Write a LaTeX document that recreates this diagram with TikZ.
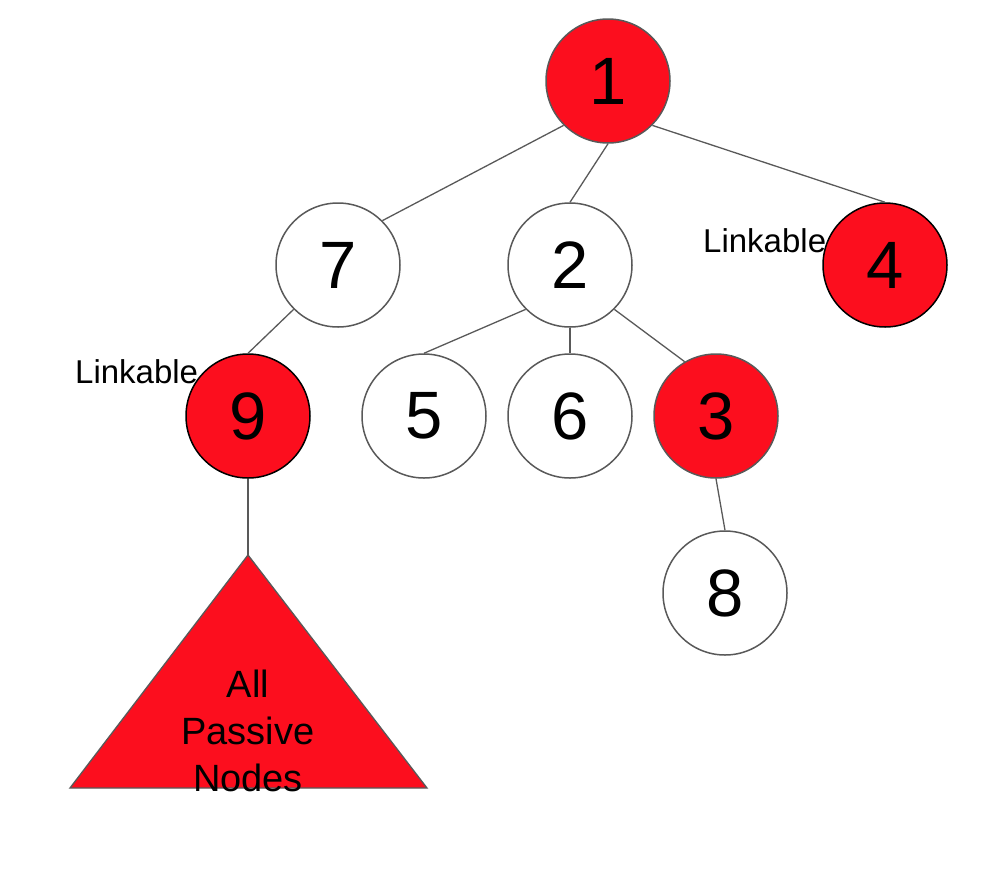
\documentclass[tikz,border=0pt]{standalone}
\usepackage{fontspec}
\setmainfont{Liberation Sans}
\definecolor{nodered}{RGB}{252,14,30}
\definecolor{edgegray}{RGB}{89,89,89}
\begin{document}
\begin{tikzpicture}[x=1pt,y=-1pt,
  vert/.style={circle, draw=edgegray, line width=1.5pt, minimum size=124pt, inner sep=0pt, font=\fontsize{67}{80}\selectfont, fill=white},
  hot/.style={vert, fill=nodered},
  hotb/.style={hot, draw=black},
  edge/.style={draw=edgegray, line width=1.3pt},
  lbl/.style={font=\fontsize{33}{39}\selectfont, anchor=base west, inner sep=0pt},
]
\useasboundingbox (0,0) rectangle (1002,892);
% labels (behind the circles)
\node[lbl] (l4) at (703,252) {Linkable};
\node[lbl] (l9) at (75,383) {Linkable};
% triangle
\coordinate (apex) at (248,555);
\coordinate (bl) at (70,788);
\coordinate (br) at (427,788);
\filldraw[fill=nodered, draw=edgegray, line width=1.3pt] (apex) -- (br) -- (bl) -- cycle;
\node[align=center, font=\fontsize{38}{47}\selectfont, inner sep=0pt] (passive) at (248,731) {All\\Passive\\Nodes};
% circles
\node[hot] (n1) at (608,81) {1};
\node[vert] (n7) at (338,265) {7};
\node[vert] (n2) at (570,265) {2};
\node[hotb] (n4) at (885,265) {4};
\node[hotb] (n9) at (248,416) {9};
\node[vert] (n5) at (424,416) {5};
\node[vert] (n6) at (570,416) {6};
\node[hot] (n3) at (716,416) {3};
\node[vert] (n8) at (725,593) {8};
% edges
\draw[edge] (n1.south west) -- (n7.north east);
\draw[edge] (n1.south) -- (n2.north);
\draw[edge] (n1.south east) -- (n4.north);
\draw[edge] (n7.south west) -- (n9.north);
\draw[edge] (n2.south west) -- (n5.north);
\draw[edge] (n2.south) -- (n6.north);
\draw[edge] (n2.south east) -- (n3.120);
\draw[edge] (n3.south) -- (n8.north);
\draw[edge] (n9.south) -- (apex);
\end{tikzpicture}
\end{document}
